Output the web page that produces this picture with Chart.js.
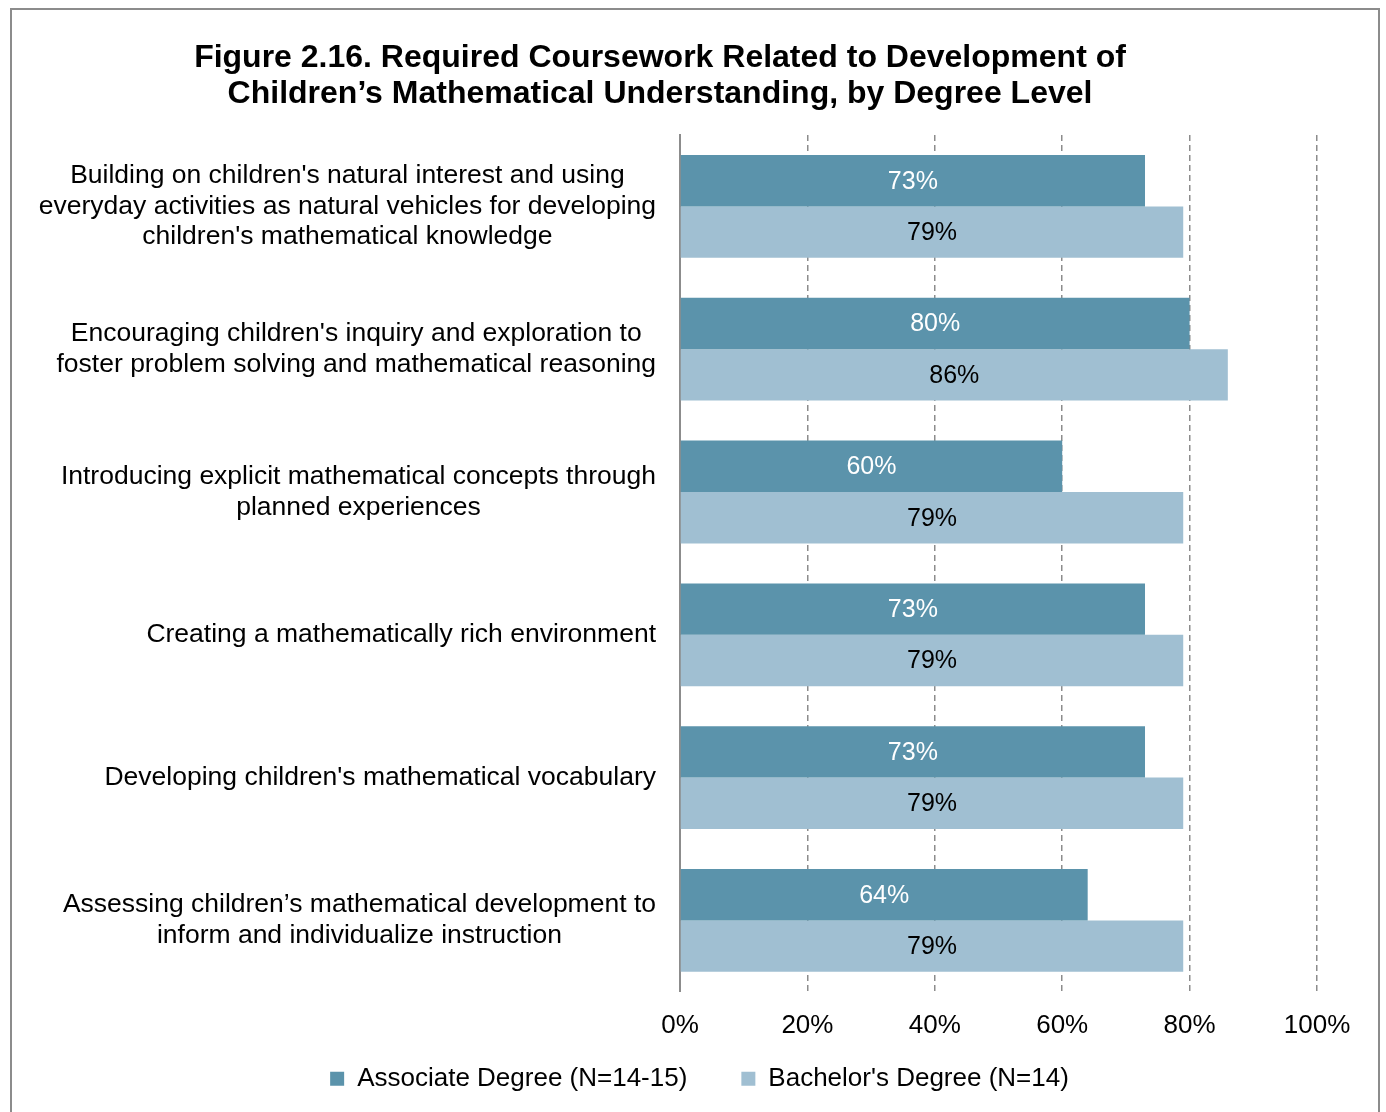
<!DOCTYPE html>
<html>
<head>
<meta charset="utf-8">
<script src="https://cdn.jsdelivr.net/npm/chart.js@4.4.1/dist/chart.umd.min.js"></script>
<style>
  body { margin: 0; background: #fff; }
  #frame {
    position: absolute; left: 10px; top: 8px;
    width: 1366px; height: 1130px;
    border: 2px solid #8c8c8c;
  }
  #myChart { display: block; }
</style>
</head>
<body>
<div id="frame">
  <canvas id="myChart" width="1366" height="1116"></canvas>
</div>
<script>
const titulo = [
  'Figure 2.16. Required Coursework Related to Development of',
  'Children\u2019s Mathematical Understanding, by Degree Level'
];

const temas = [
  ["Building on children's natural interest and using", "everyday activities as natural vehicles for developing", "children's mathematical knowledge"],
  ["Encouraging children's inquiry and exploration to", "foster problem solving and mathematical reasoning"],
  ["Introducing explicit mathematical concepts through", "planned experiences"],
  ["Creating a mathematically rich environment"],
  ["Developing children's mathematical vocabulary"],
  ["Assessing children\u2019s mathematical development to", "inform and individualize instruction"]
];

const asociado = [73, 80, 60, 73, 73, 64];
const licenciatura = [79, 86, 79, 79, 79, 79];

const ticksX = [0, 20, 40, 60, 80, 100];

const FUENTE = '"Liberation Sans", Arial, Helvetica, sans-serif';
const ctx = document.getElementById('myChart');

// titulo en dos lineas, centrado sobre la figura
const tituloPlugin = {
  id: 'tituloPlugin',
  afterDraw(chart) {
    const c = chart.ctx;
    c.save();
    c.font = 'bold 32px ' + FUENTE;
    c.fillStyle = '#000';
    c.textAlign = 'center';
    c.textBaseline = 'middle';
    titulo.forEach((linea, i) => c.fillText(linea, 648, 48 + i * 36));
    c.restore();
  }
};

// etiquetas de categoria: bloque alineado a la derecha, lineas centradas
const etiquetasY = {
  id: 'etiquetasY',
  afterDraw(chart) {
    const c = chart.ctx;
    const escala = chart.scales.y;
    const derecha = chart.chartArea.left - 24;
    c.save();
    c.font = '26.5px ' + FUENTE;
    c.fillStyle = '#000';
    c.textAlign = 'center';
    c.textBaseline = 'middle';
    temas.forEach((lineas, i) => {
      const ancho = Math.max(...lineas.map(l => c.measureText(l).width));
      const cx = derecha - ancho / 2;
      const cy = escala.getPixelForValue(i);
      const alto = 30.5;
      lineas.forEach((l, j) => {
        c.fillText(l, cx, cy + (j - (lineas.length - 1) / 2) * alto);
      });
    });
    c.restore();
  }
};

// porcentaje dentro de cada barra
const valores = {
  id: 'valores',
  afterDatasetsDraw(chart) {
    const c = chart.ctx;
    c.save();
    c.font = '25px ' + FUENTE;
    c.textAlign = 'center';
    c.textBaseline = 'middle';
    chart.data.datasets.forEach((ds, d) => {
      chart.getDatasetMeta(d).data.forEach((bar, i) => {
        c.fillStyle = d === 0 ? '#ffffff' : '#000000';
        c.fillText(ds.data[i] + '%', (bar.x + bar.base) / 2, bar.y + 1);
      });
    });
    c.restore();
  }
};

// recoloca la caja de la leyenda debajo de los ticks del eje x
const moverLeyenda = {
  id: 'moverLeyenda',
  afterLayout(chart) {
    const l = chart.legend;
    if (!l) return;
    const pad = l.options.labels.padding;
    l.top = chart.chartArea.bottom + 74 - pad;
    l.bottom = l.top + 2 * pad + 30;
    l.left += 35;
    l.right += 35;
  }
};

new Chart(ctx, {
  type: 'bar',
  data: {
    labels: temas.map(t => t.join(' ')),
    datasets: [{
      label: 'Associate Degree (N=14-15)',
      data: asociado,
      backgroundColor: '#5b93ab',
      barPercentage: 1,
      categoryPercentage: 0.72
    }, {
      label: "Bachelor's Degree (N=14)",
      data: licenciatura,
      backgroundColor: '#a0bfd2',
      barPercentage: 1,
      categoryPercentage: 0.72
    }]
  },
  options: {
    indexAxis: 'y',
    responsive: false,
    animation: false,
    layout: { padding: { top: 125, right: 61, bottom: 7, left: 0 } },
    scales: {
      x: {
        min: 0,
        max: 100,
        afterBuildTicks: (scale) => { scale.ticks = ticksX.map(v => ({ value: v })); },
        ticks: {
          color: '#000',
          font: { family: FUENTE, size: 26 },
          padding: 18,
          maxRotation: 0,
          callback: (v) => v + '%'
        },
        grid: {
          drawTicks: false,
          lineWidth: 1.5,
          color: (c) => c.tick && c.tick.value === 0 ? 'rgba(0,0,0,0)' : '#8c8c8c'
        },
        border: { display: false, dash: [6, 4] }
      },
      y: {
        afterFit: (scale) => { scale.width = 668; },
        ticks: { display: false },
        grid: { display: false },
        border: { display: true, color: '#8c8c8c', width: 2 }
      }
    },
    plugins: {
      legend: {
        position: 'bottom',
        maxHeight: 60,
        labels: {
          color: '#000',
          boxWidth: 14,
          boxHeight: 14,
          padding: 54,
          font: { family: FUENTE, size: 26 }
        }
      },
      tooltip: { enabled: false }
    }
  },
  plugins: [tituloPlugin, etiquetasY, valores, moverLeyenda]
});
</script>
</body>
</html>
